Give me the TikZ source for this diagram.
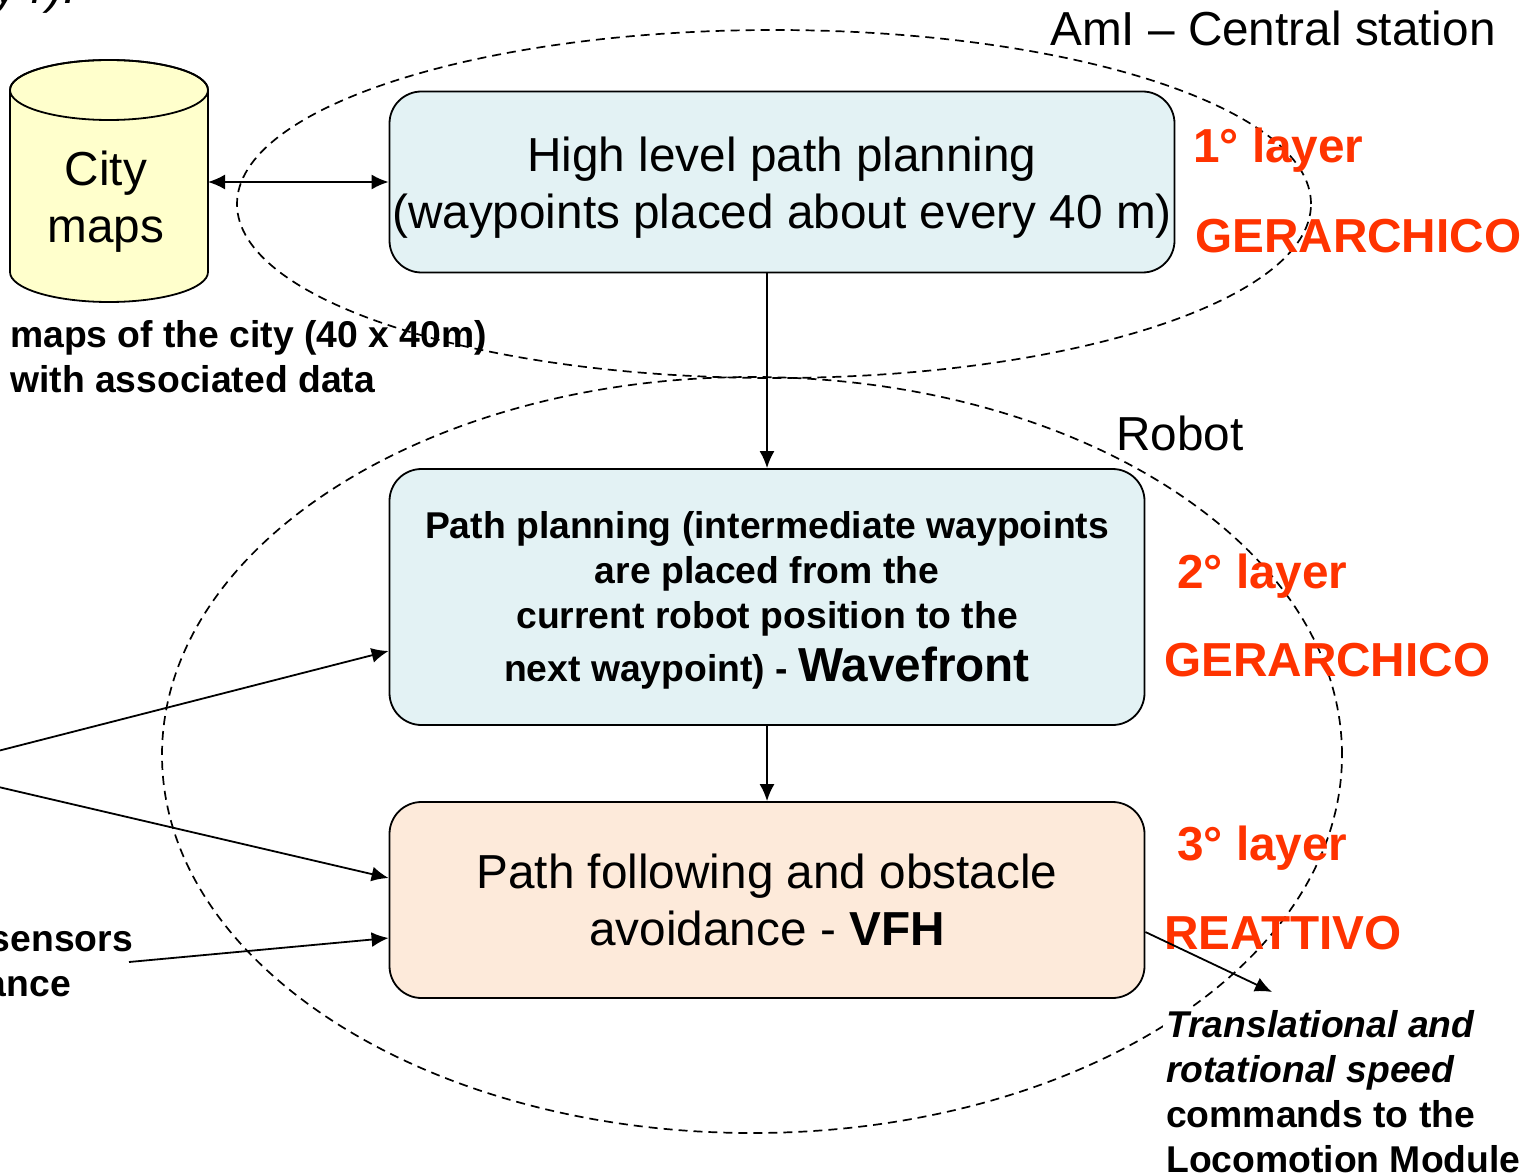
\documentclass[tikz,border=0pt]{standalone}
\usepackage{fontspec}
\setmainfont{Liberation Sans}
\usetikzlibrary{arrows.meta}
\definecolor{boxcyan}{RGB}{227,242,244}
\definecolor{boxpeach}{RGB}{253,234,218}
\definecolor{mapyellow}{RGB}{255,255,204}
\definecolor{layerred}{RGB}{255,51,0}

\begin{document}
\begin{tikzpicture}[x=1pt, y=-1pt,
    big/.style={font=\fontsize{47.7}{57}\selectfont},
    small/.style={font=\fontsize{37.3}{45}\selectfont\bfseries},
    layer/.style={font=\fontsize{47.7}{57}\selectfont\bfseries, text=layerred, anchor=west, inner sep=0pt},
    block/.style={rectangle, draw, line width=1.8pt, rounded corners=32pt, align=center, inner sep=0pt},
    zone/.style={dash pattern=on 9pt off 6pt, line width=1.7pt},
    arr/.style={-{Latex[length=17pt,width=15pt]}, line width=1.8pt}]
    \useasboundingbox (0,0) rectangle (1528,1174);
    \clip (0,0) rectangle (1528,1174);

    % Station and robot zones
    \draw[zone] (774,204) ellipse [x radius=537pt, y radius=174pt];
    \draw[zone] (752,755) ellipse [x radius=590pt, y radius=378pt];

    % City maps database
    \draw[line width=1.8pt, fill=mapyellow] (10,90) -- (10,272) arc[start angle=180, end angle=360, x radius=99pt, y radius=30pt] -- (208,90) arc[start angle=0, end angle=180, x radius=99pt, y radius=30pt] -- cycle;
    \draw[line width=1.8pt] (109,90) ellipse [x radius=99pt, y radius=30pt];
    \node[big, align=center, inner sep=0pt] (maps) at (106,202) {City\\maps};
    \coordinate (mapsE) at (208,182);
    \node[small, align=left, anchor=west, inner sep=0pt] (mapsinfo) at (10,357) {maps of the city (40 x 40m)\\with associated data};

    % Layers
    \node[block, fill=boxcyan, big, minimum width=785pt, minimum height=181pt] (hlp) at (782,182) {\rule{0pt}{45pt}High level path planning\\(waypoints placed about every 40 m)};
    \node[block, fill=boxcyan, small, minimum width=755pt, minimum height=256pt] (pp) at (767,597) {\rule{0pt}{34pt}Path planning (intermediate waypoints\\are placed from the\\current robot position to the\\[8pt]next waypoint) - {\fontsize{47.7}{57}\selectfont Wavefront}};
    \node[block, fill=boxpeach, big, minimum width=755pt, minimum height=196pt] (pf) at (767,900) {Path following and obstacle\\avoidance - \textbf{VFH}};

    % Labels
    \node[big, anchor=west, inner sep=0pt] (central) at (1050,28) {AmI – Central station};
    \node[big, anchor=west, inner sep=0pt] (robot) at (1116,433) {Robot};
    \node[layer] (l1) at (1193,150) {1° layer};
    \node[layer] (g1) at (1195,236) {GERARCHICO};
    \node[layer] (l2) at (1177,576) {2° layer};
    \node[layer] (g2) at (1164,660) {GERARCHICO};
    \node[layer] (l3) at (1177,848) {3° layer};
    \node[layer] (r3) at (1164,933) {REATTIVO};
    \node[anchor=base west, font=\fontsize{47.7}{57}\selectfont\itshape, inner sep=0pt] (frag) at (-6,4) {y r).};

    % Sensor inputs
    \coordinate (inA) at (-10,753);
    \coordinate (inB) at (-10,785);
    \node[small, anchor=base east, inner sep=0pt] (sensA) at (133,951) {sensors};
    \node[small, anchor=base east, inner sep=0pt] (sensB) at (71,996) {ance};

    % Output commands
    \node[small, fill=white, anchor=north west, align=left, inner sep=3pt] (cmd) at (1163,1007) {\textit{Translational and}\\\textit{rotational speed}\\commands to the\\Locomotion Module};
    \coordinate (cmdtip) at (1272,992);

    % Connectors
    \draw[{Latex[length=17pt,width=15pt]}-{Latex[length=17pt,width=15pt]}, line width=1.8pt] (mapsE) -- (hlp.west);
    \draw[arr] (hlp.south -| pp.north) -- (pp.north);
    \draw[arr] (pp.south) -- (pf.north);
    \draw[arr] (inA) -- (pp.west |- 0,651);
    \draw[arr] (inB) -- (pf.west |- 0,878);
    \draw[arr] ([shift={(-4,11)}]sensA.base east) -- (pf.west |- 0,938);
    \draw[arr] (pf.east |- 0,932) -- (cmdtip);
\end{tikzpicture}
\end{document}
